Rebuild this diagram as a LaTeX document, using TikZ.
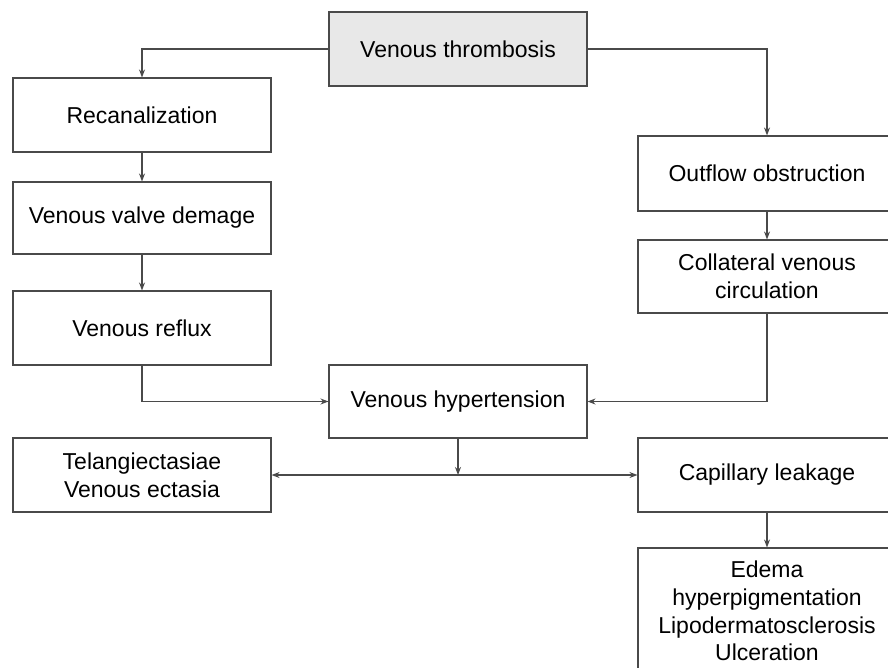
\documentclass[tikz,border=0pt]{standalone}
\usepackage{fontspec}
\setmainfont{Liberation Sans}
\usetikzlibrary{arrows.meta}
\definecolor{linegray}{HTML}{4A4A4A}
\definecolor{topfill}{HTML}{E8E8E8}
\begin{document}
\begin{tikzpicture}[x=1pt, y=-1pt, line join=miter, >={Stealth[length=8pt,width=6pt]},
	font=\fontsize{23}{27.7}\selectfont,
	flowbox/.style={draw=linegray, line width=1.1pt, fill=white, minimum width=258pt, align=center, inner sep=2pt},
	link/.style={draw=linegray, line width=1.1pt}]
			\clip (0,0) rectangle (888,667);
			\fill[white] (0,0) rectangle (888,667);
			% boxes
			\node[flowbox, fill=topfill, minimum height=74pt] (thromb) at (458,49) {Venous thrombosis};
			\node[flowbox, minimum height=74pt] (recan) at (142,115) {Recanalization};
			\node[flowbox, minimum height=72pt] (valve) at (142,218) {Venous valve demage};
			\node[flowbox, minimum height=74pt] (reflux) at (142,328) {Venous reflux};
			\node[flowbox, minimum height=75pt] (outflow) at (767,173.5) {Outflow obstruction};
			\node[flowbox, minimum height=73pt] (collat) at (767,276.5) {Collateral venous\\circulation};
			\node[flowbox, minimum height=73pt] (hyper) at (458,401.5) {Venous hypertension};
			\node[flowbox, minimum height=74pt] (telang) at (142,475) {Telangiectasiae\\Venous ectasia};
			\node[flowbox, minimum height=74pt] (capil) at (767,475) {Capillary leakage};
			\node[flowbox, minimum height=126pt] (edema) at (767,611) {Edema\\hyperpigmentation\\Lipodermatosclerosis\\Ulceration};
			% connectors
			\draw[link,->] (thromb.west) -| (recan.north);
			\draw[link,->] (thromb.east) -| (outflow.north);
			\draw[link,->] (recan) -- (valve);
			\draw[link,->] (valve) -- (reflux);
			\draw[link,->] (outflow) -- (collat);
			\draw[link,->] (reflux.south) |- (hyper.west);
			\draw[link,->] (collat.south) |- (hyper.east);
			\coordinate (split) at (hyper.south |- telang.east);
			\draw[link,->] (hyper.south) -- (split);
			\draw[link,->] (split) -- (telang.east);
			\draw[link,->] (split) -- (capil.west);
			\draw[link,->] (capil) -- (edema);
\end{tikzpicture}
\end{document}
